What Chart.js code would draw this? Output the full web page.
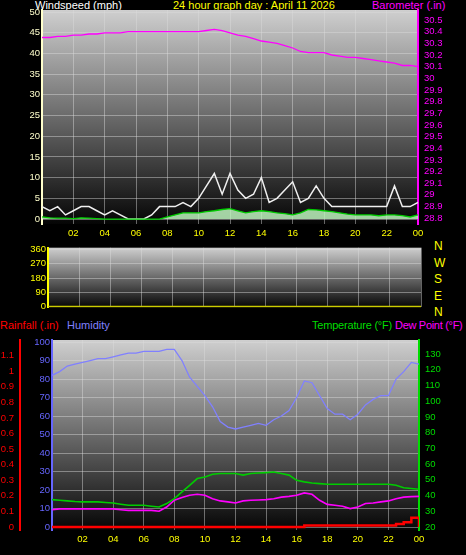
<!DOCTYPE html>
<html>
<head>
<meta charset="utf-8">
<script src="https://cdn.jsdelivr.net/npm/chart.js"></script>
<style>
  body { margin: 0; background: #000; width: 466px; height: 555px; overflow: hidden; position: relative; font-family: "Liberation Sans", Arial, sans-serif; }
  .t { position: absolute; font-size: 11px; white-space: nowrap; }
  .c { position: absolute; left: 0; }
</style>
</head>
<body>
<div class="t" style="left:35px;top:-1px;color:#fff">Windspeed (mph)</div>
<div class="t" style="left:173px;top:-1px;color:#ffff00">24 hour graph day : April 11 2026</div>
<div class="t" style="left:372px;top:-1px;color:#ff00ff">Barometer (.in)</div>
<div class="t" style="left:434px;top:238px;color:#ffff00;line-height:16.5px;font-size:12px">N<br>W<br>S<br>E<br>N</div>
<div class="t" style="left:0px;top:319px;color:#ff0000">Rainfall (.in)</div>
<div class="t" style="left:67px;top:319px;color:#8080ff">Humidity</div>
<div class="t" style="left:312px;top:319px;color:#00dd00;letter-spacing:-0.2px">Temperature (°F)</div>
<div class="t" style="left:395px;top:319px;color:#ff00ff;letter-spacing:-0.3px">Dew Point (°F)</div>

<div class="c" style="top:0;width:466px;height:240px"><canvas id="c1"></canvas></div>
<div class="c" style="top:240px;width:466px;height:75px"><canvas id="c2"></canvas></div>
<div class="c" style="top:315px;width:466px;height:240px"><canvas id="c3"></canvas></div>
<script>
// half-hour steps, hours of the day
const hours = [0,0.5,1,1.5,2,2.5,3,3.5,4,4.5,5,5.5,6,6.5,7,7.5,8,8.5,9,9.5,10,10.5,11,11.5,12,
  12.5,13,13.5,14,14.5,15,15.5,16,16.5,17,17.5,18,18.5,19,19.5,20,20.5,21,21.5,22,22.5,23,23.5,24];
const xTickLabels = ['', '02', '04', '06', '08', '10', '12', '14', '16', '18', '20', '22', '00'];

const windGust = [3,2,3,1,2,3,3,2,1,2,1,0,0,0,1,3,3,3,4,3,5,8,11,6,11,7,5,6,10,4,5,7,9,4,5,8,5,3,3,3,3,3,3,3,3,8,3,3,4];
const windAvg = [0.5,0.3,0.2,0.2,0.1,0.3,0.2,0.1,0,0,0,0,0,0,0,0,0.5,1,1.5,1.5,1.5,1.8,2,2.3,2.5,2,1.5,1.8,2,1.8,1.5,1.3,1,1.5,2.3,2.2,2,1.8,1.5,1.2,1,1,1,0.8,1,1,0.8,0.5,1];
const barometer = [30.35,30.35,30.36,30.36,30.37,30.37,30.38,30.38,30.39,30.39,30.39,30.40,30.40,30.40,30.40,30.40,30.40,30.40,30.40,30.40,30.40,30.41,30.42,30.41,30.39,30.37,30.36,30.34,30.32,30.31,30.30,30.28,30.26,30.23,30.22,30.22,30.22,30.20,30.19,30.18,30.18,30.17,30.16,30.15,30.14,30.13,30.11,30.11,30.10];

const humidity = [82,84,87,88,89,90,91,91,92,93,94,94,95,95,95,96,96,90,81,76,71,65,57,54,53,54,55,56,55,58,60,63,70,79,78,71,64,61,61,58,61,66,69,71,71,80,84,89,88];
const temperature = [37.4,37,36.6,36.2,36,36,36,35.6,35.3,34.5,33.8,33.8,33.8,33.2,32.7,34.9,38,42.3,46.5,50.8,51.8,53.5,54,54,54,53,54,54.3,54.6,55,54,53,49.7,48.7,48,47.6,47.2,47.2,47.2,47.2,47.2,47.2,47.2,47.2,47.2,46.5,45,44.5,44];
const dewPoint = [31,31.5,31.5,31.5,31.5,31.5,31.5,31.5,31.5,31,30.6,30.6,30.6,30.6,30,32.7,37,38.7,40.2,40.8,40.2,38,36.6,36,35.3,36.6,37,37.2,37.4,38,39,39.5,40.2,41.7,40.8,37,34.4,33.8,33.2,31.7,32.7,34.9,35.3,36,36.6,38,39,39.3,39.5];
const rainfall = [0,0,0,0,0,0,0,0,0,0,0,0,0,0,0,0,0,0,0,0,0,0,0,0,0,0,0,0,0,0,0,0,0,0.01,0.01,0.01,0.01,0.01,0.01,0.01,0.01,0.01,0.01,0.01,0.01,0.02,0.03,0.06,0];

const windTicks = [0,5,10,15,20,25,30,35,40,45,50];
const baroTicks = [28.8,28.9,29,29.1,29.2,29.3,29.4,29.5,29.6,29.7,29.8,29.9,30,30.1,30.2,30.3,30.4,30.5];
const dirTicks = [0,90,180,270,360];
const humTicks = [0,10,20,30,40,50,60,70,80,90,100];
const rainTicks = [0,0.1,0.2,0.3,0.4,0.5,0.6,0.7,0.8,0.9,1,1.1];
const tempTicks = [20,30,40,50,60,70,80,90,100,110,120,130];

const pts = arr => arr.map((v, i) => ({ x: hours[i], y: v }));
const font = { family: 'Liberation Sans', size: 9.5 };
const grid = { color: 'rgba(220,220,220,0.45)', borderDash: [1, 2], drawTicks: false };

const bgPlugin = {
  id: 'bg',
  beforeDraw(chart) {
    const a = chart.chartArea, ctx = chart.ctx;
    const g = ctx.createLinearGradient(0, a.top, 0, a.bottom);
    g.addColorStop(0, '#cfcfcf');
    g.addColorStop(1, '#050505');
    ctx.save();
    ctx.fillStyle = g;
    ctx.fillRect(a.left, a.top, a.right - a.left, a.bottom - a.top);
    ctx.restore();
  }
};

function fixed(vals) {
  return s => { s.ticks = vals.map(v => ({ value: v })); };
}
function xAxis(h, show) {
  return {
    type: 'linear', min: 0, max: 24,
    afterBuildTicks: fixed([0,2,4,6,8,10,12,14,16,18,20,22,24]),
    afterFit: s => { s.height = h; },
    grid: grid, border: { display: false },
    ticks: { display: show, autoSkip: false, color: '#ffff00', font: font, padding: 4, maxRotation: 0,
      callback: (v) => xTickLabels[v / 2] }
  };
}
function yAxis(pos, w, min, max, vals, color) {
  return {
    position: pos, min: min, max: max,
    afterBuildTicks: fixed(vals),
    afterFit: s => { s.width = w; },
    grid: { display: false, drawTicks: true, tickLength: 4, tickColor: color },
    border: { color: color, width: 2 },
    ticks: { color: color, font: font, padding: 2, autoSkip: false, callback: v => String(v) }
  };
}
const base = {
  responsive: true, maintainAspectRatio: false, animation: false,
  plugins: { legend: { display: false }, tooltip: { enabled: false } },
  elements: { point: { radius: 0 }, line: { borderWidth: 1.3, tension: 0 } }
};

new Chart(document.getElementById('c1'), {
  type: 'line',
  data: { datasets: [
    { data: pts(barometer), borderColor: '#ff00ff', yAxisID: 'yb' },
    { data: pts(windAvg), borderColor: '#00cc00', backgroundColor: 'rgba(190,245,190,0.85)', fill: 'origin', yAxisID: 'y' },
    { data: pts(windGust), borderColor: '#f0f0f0', borderWidth: 1.5, yAxisID: 'y' }
  ] },
  options: { ...base, layout: { padding: { top: 10, bottom: 0, left: 0, right: 0 } },
    scales: {
      x: xAxis(16, true),
      y: { ...yAxis('left', 42, -1.2, 50.5, windTicks, '#ffffcc'), grid: { ...grid } },
      yb: yAxis('right', 48, 28.75, 30.586, baroTicks, '#ff00ff')
    } },
  plugins: [bgPlugin]
});

new Chart(document.getElementById('c2'), {
  type: 'line',
  data: { datasets: [
    { data: [{ x: 0, y: 0 }, { x: 24, y: 0 }], borderColor: '#cccc00', borderWidth: 2 }
  ] },
  options: { ...base, layout: { padding: { top: 4, bottom: 3 } },
    scales: {
      x: xAxis(0, false),
      y: { ...yAxis('left', 48, -3, 370, dirTicks, '#ffff00'), grid: { ...grid } },
      yr: { position: 'right', display: true, afterFit: s => { s.width = 45; }, ticks: { display: false }, grid: { display: false }, border: { display: false } }
    } },
  plugins: [bgPlugin]
});

new Chart(document.getElementById('c3'), {
  type: 'line',
  data: { datasets: [
    { data: pts(humidity), borderColor: '#8080ff', yAxisID: 'yh' },
    { data: pts(temperature), borderColor: '#00cc00', borderWidth: 1.6, yAxisID: 'yt' },
    { data: pts(dewPoint), borderColor: '#ff00ff', borderWidth: 1.6, yAxisID: 'yt' },
    { data: pts(rainfall), borderColor: '#ff0000', borderWidth: 2.5, stepped: true, yAxisID: 'yr' }
  ] },
  options: { ...base, layout: { padding: { top: 25 } },
    scales: {
      x: xAxis(25, true),
      yh: { ...yAxis('left', 32, -1.6, 101.1, humTicks, '#6666ff'), grid: { ...grid } },
      yr: { ...yAxis('left', 20, -0.019, 1.2, rainTicks, '#ff0000'), border: { color: '#ff0000', width: 2, dash: [2, 2] } },
      yt: yAxis('right', 47, 18.1, 138.9, tempTicks, '#00dd00')
    } },
  plugins: [bgPlugin]
});
</script>
</body>
</html>
